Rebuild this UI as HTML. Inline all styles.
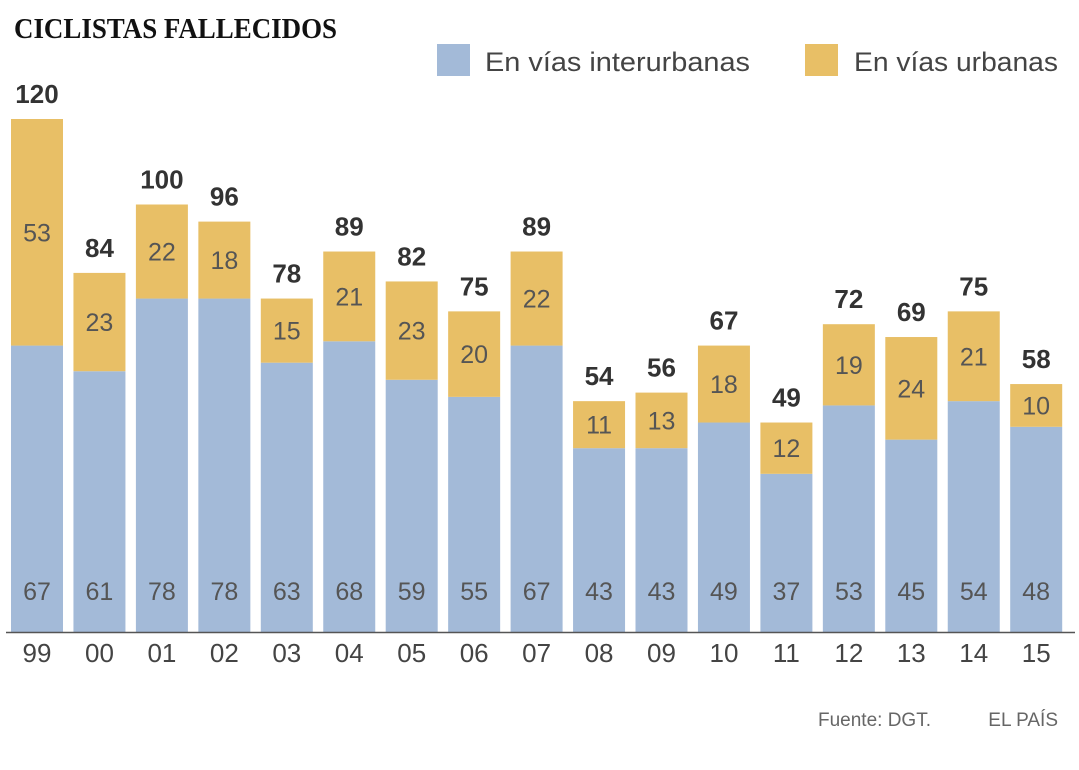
<!DOCTYPE html>
<html><head><meta charset="utf-8"><style>
html,body{margin:0;padding:0;background:#fff;}
svg{display:block;font-family:"Liberation Sans",sans-serif;}
</style></head><body>
<svg id="chart" width="1079" height="770" viewBox="0 0 1079 770" xmlns="http://www.w3.org/2000/svg">
<text x="14" y="38" font-family="Liberation Serif,serif" font-weight="bold" font-size="29" textLength="323" lengthAdjust="spacingAndGlyphs" fill="#111">CICLISTAS FALLECIDOS</text>
<g>
<rect x="437" y="44" width="33" height="32" fill="#a3bad8"/>
<text x="485" y="71" font-size="27" fill="#444" textLength="265" lengthAdjust="spacingAndGlyphs">En vías interurbanas</text>
<rect x="805" y="44" width="33" height="32" fill="#e8bf66"/>
<text x="854" y="71" font-size="27" fill="#444" textLength="204" lengthAdjust="spacingAndGlyphs">En vías urbanas</text>
</g>
<g id="bars"></g>
<line x1="6" y1="632.5" x2="1075" y2="632.5" stroke="#555" stroke-width="1.5"/>
<text x="818" y="726" font-size="19" fill="#666">Fuente: DGT.</text>
<text x="1058" y="726" font-size="19" fill="#666" text-anchor="end">EL PAÍS</text>
</svg>
<script>
const years = ["99","00","01","02","03","04","05","06","07","08","09","10","11","12","13","14","15"];
const interurbanas = [67,61,78,78,63,68,59,55,67,43,43,49,37,53,45,54,48];
const urbanas = [53,23,22,18,15,21,23,20,22,11,13,18,12,19,24,21,10];
const NS = "http://www.w3.org/2000/svg";
const baseY = 632, pxPerUnit = 4.275, x0 = 11, step = 62.45, bw = 52;
const y = v => baseY - v * pxPerUnit;
const x = i => x0 + i * step;
const g = document.getElementById('bars');
function mk(tag, attrs, txt){const e=document.createElementNS(NS,tag);for(const k in attrs)e.setAttribute(k,attrs[k]);if(txt!=null)e.textContent=txt;g.appendChild(e);return e;}
years.forEach((yr,i)=>{
  const a = interurbanas[i], b = urbanas[i], t = a + b, cx = x(i) + bw/2;
  const r1 = mk('rect',{x:x(i),y:y(a),width:bw,height:baseY-y(a),fill:'#a3bad8'});
  
  
  const r2 = mk('rect',{x:x(i),y:y(t),width:bw,height:y(a)-y(t),fill:'#e8bf66'});
  
  
  const l1 = mk('text',{x:cx,y:600,'font-size':25,fill:'#555','text-anchor':'middle'},a);
  
  
  const l2 = mk('text',{x:cx,y:(y(a)+y(t))/2+9,'font-size':25,fill:'#555','text-anchor':'middle'},b);
  
  
  const l3 = mk('text',{x:cx,y:y(t)-16,'font-size':26,'font-weight':'bold',fill:'#333','text-anchor':'middle'},t);
  
  
  const l4 = mk('text',{x:cx,y:662,'font-size':26,fill:'#444','text-anchor':'middle'},yr);
  
  
});
</script>
</body></html>
